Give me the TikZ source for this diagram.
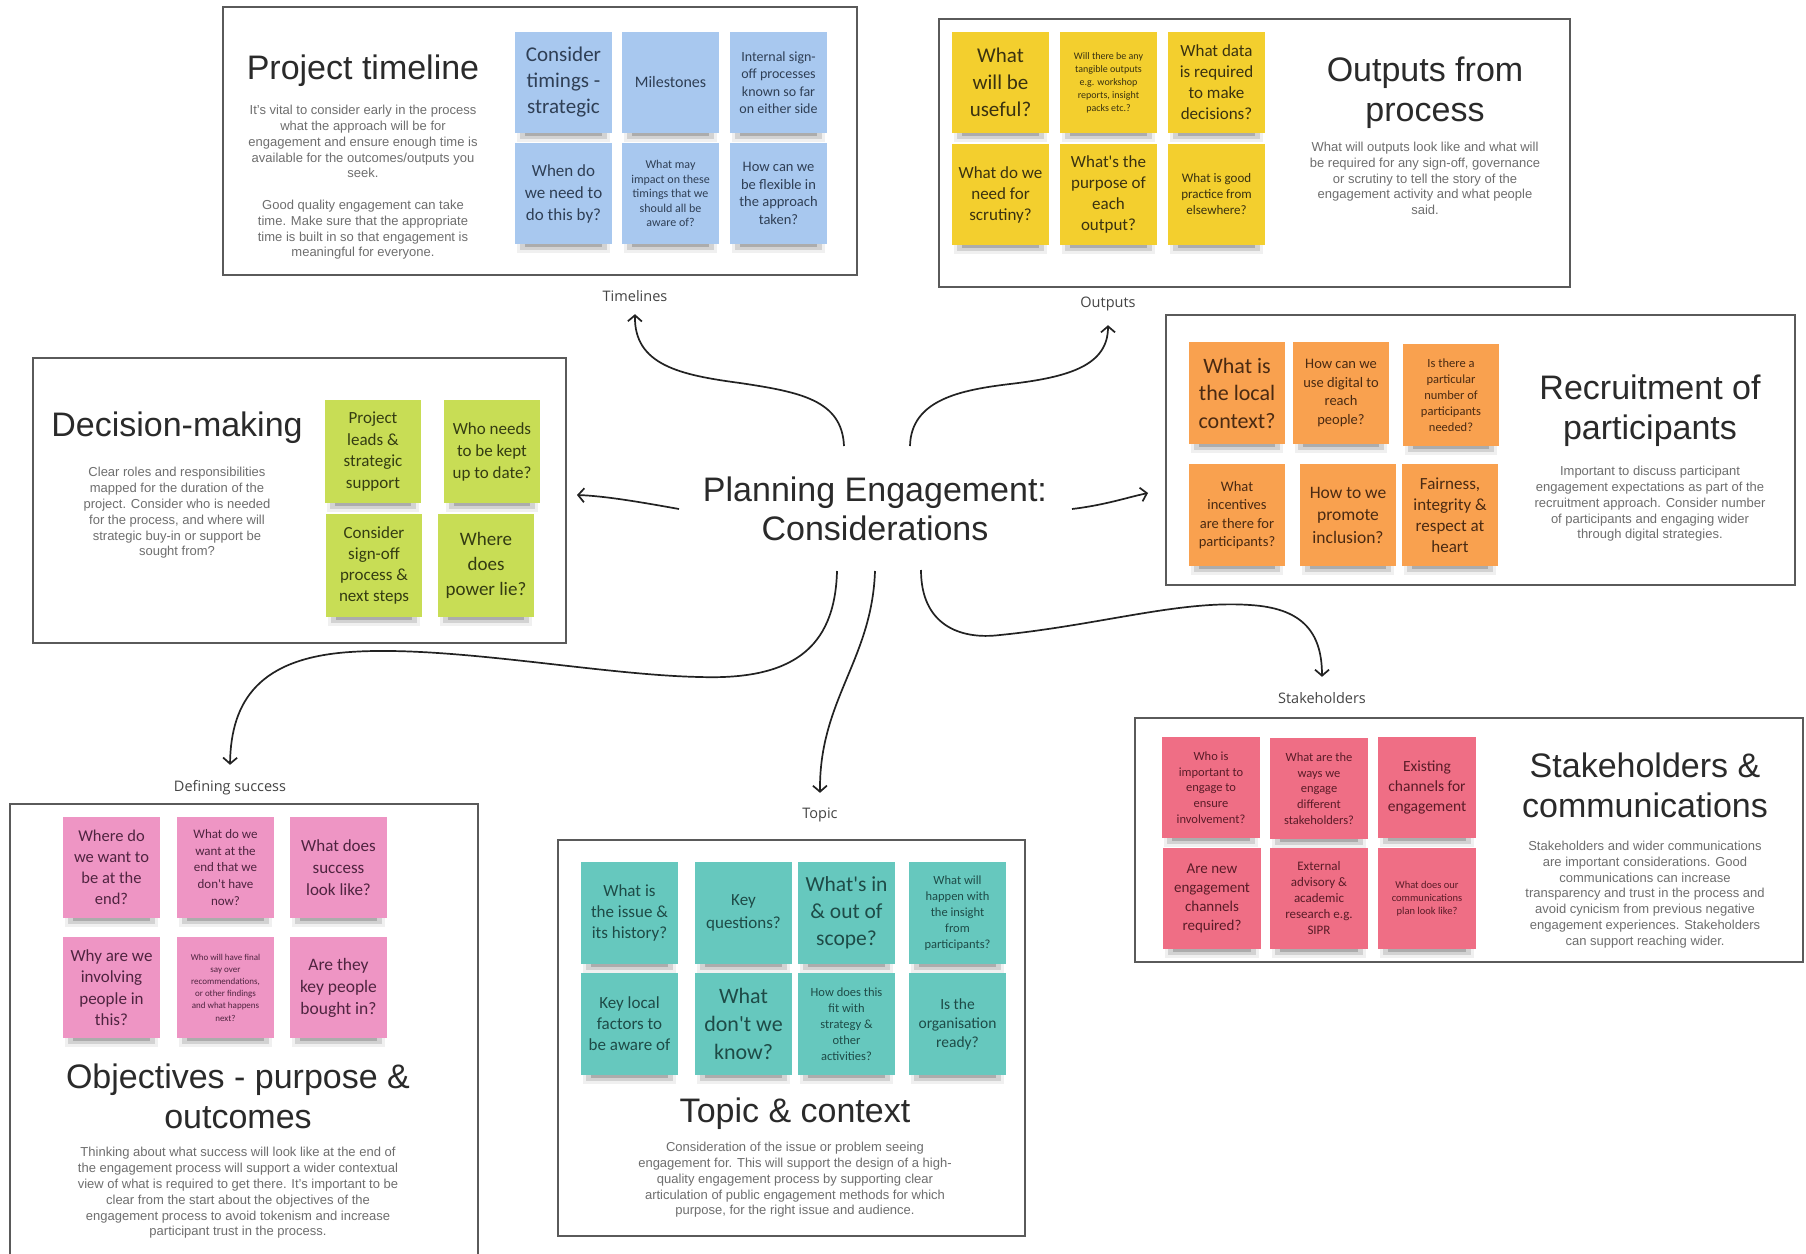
\documentclass[tikz,border=0pt]{standalone}
\usepackage{fontspec}
\setmainfont{Liberation Sans}
\newfontfamily\stfont{Carlito}
\newfontfamily\lblfont{Open Sans}
\usetikzlibrary{arrows.meta}
\definecolor{cBox}{HTML}{5A5A5A}
\definecolor{cTitle}{HTML}{2A2A2A}
\definecolor{cDesc}{HTML}{6E6E6E}
\definecolor{cLbl}{HTML}{444444}
\definecolor{cLine}{HTML}{222222}
\definecolor{cBlue}{HTML}{A8C8EF}\definecolor{cBlueT}{HTML}{2F3F55}
\definecolor{cYel}{HTML}{F3CF2E}\definecolor{cYelT}{HTML}{3A3210}
\definecolor{cLime}{HTML}{C8DD55}\definecolor{cLimeT}{HTML}{343C12}
\definecolor{cOra}{HTML}{F9A14F}\definecolor{cOraT}{HTML}{4A2A12}
\definecolor{cRed}{HTML}{EF6E85}\definecolor{cRedT}{HTML}{5A1C28}
\definecolor{cPink}{HTML}{EE95C4}\definecolor{cPinkT}{HTML}{4F2440}
\definecolor{cTeal}{HTML}{66C8BE}\definecolor{cTealT}{HTML}{1E4B47}
\newcommand\Fsz[2]{\fontsize{#1}{#2}\selectfont}
\def\stW{97}\def\stH{101}
\newcommand\stk[7]{%
  \fill[black,opacity=.06] ({#2+2},{#3+\stH-4}) rectangle ({#2+\stW-2},{#3+\stH+9});
  \fill[black,opacity=.12] ({#2+5},{#3+\stH-2}) rectangle ({#2+\stW-5},{#3+\stH+6});
  \fill[black,opacity=.18] ({#2+10},{#3+\stH-1}) rectangle ({#2+\stW-10},{#3+\stH+3});
  \node[stickbox,#4,minimum width=\stW pt,minimum height=\stH pt,font=\stfont\Fsz{#5}{#6}] (#1) at ({#2+\stW/2},{#3+\stH/2}) {#7};}
\begin{document}
\begin{tikzpicture}[x=1pt,y=-1pt,
  panel/.style={draw=cBox,line width=2pt,fill=white,inner sep=0pt},
  ttl/.style={font=\Fsz{34}{40},text=cTitle,align=center,inner sep=0pt},
  dsc/.style={font=\Fsz{13}{15.8},text=cDesc,align=center,inner sep=0pt},
  lbl/.style={font=\lblfont\Fsz{14.5}{17},text=cLbl,inner sep=0pt,text height=10pt,text depth=3pt},
  stickbox/.style={inner sep=2pt,align=center},
  gBlue/.style={fill=cBlue,text=cBlueT},
  gYel/.style={fill=cYel,text=cYelT},
  gLime/.style={fill=cLime,text=cLimeT},
  gOra/.style={fill=cOra,text=cOraT},
  gRed/.style={fill=cRed,text=cRedT},
  gPink/.style={fill=cPink,text=cPinkT},
  gTeal/.style={fill=cTeal,text=cTealT},
  conn/.style={draw=cLine,line width=1.7pt,-{Straight Barb[length=6pt,width=14pt]}}]
\useasboundingbox (0,0) rectangle (1806,1253);
\fill[white] (0,0) rectangle (1806,1253);

% ---------- panels ----------
\node[panel,minimum width=634pt,minimum height=268pt] (ptbox) at (540,141) {};
\node[panel,minimum width=631pt,minimum height=268pt] (oubox) at (1254.5,153) {};
\node[panel,minimum width=533pt,minimum height=285pt] (dmbox) at (299.5,500.5) {};
\node[panel,minimum width=629pt,minimum height=270pt] (rcbox) at (1480.5,450) {};
\node[panel,minimum width=668pt,minimum height=244pt] (shbox) at (1469,840) {};
\node[panel,minimum width=468pt,minimum height=454pt] (obbox) at (244,1031) {};
\node[panel,minimum width=467pt,minimum height=396pt] (tcbox) at (791.5,1038) {};

% ---------- titles and descriptions ----------
\node[ttl] (ptt) at (363,71) {Project timeline};
\node[dsc] (ptd) at (363,182.5) {It's vital to consider early in the process\\what the approach will be for\\engagement and ensure enough time is\\available for the outcomes/outputs you\\seek.\\[15.8pt]Good quality engagement can take\\time. Make sure that the appropriate\\time is built in so that engagement is\\meaningful for everyone.};
\node[ttl] (out) at (1425,93) {Outputs from\\process};
\node[dsc] (oud) at (1425,178.5) {What will outputs look like and what will\\be required for any sign-off, governance\\or scrutiny to tell the story of the\\engagement activity and what people\\said.};
\node[ttl] (dmt) at (177,428) {Decision-making};
\node[dsc] (dmd) at (177,513) {Clear roles and responsibilities\\mapped for the duration of the\\project. Consider who is needed\\for the process, and where will\\strategic buy-in or support be\\sought from?};
\node[ttl] (rct) at (1650,411) {Recruitment of\\participants};
\node[dsc] (rcd) at (1650,504) {Important to discuss participant\\engagement expectations as part of the\\recruitment approach. Consider number\\of participants and engaging wider\\through digital strategies.};
\node[ttl] (sht) at (1645,785) {Stakeholders \&\\communications};
\node[dsc] (shd) at (1645,894.5) {Stakeholders and wider communications\\are important considerations. Good\\communications can increase\\transparency and trust in the process and\\avoid cynicism from previous negative\\engagement experiences. Stakeholders\\can support reaching wider.};
\node[ttl] (obt) at (238,1096) {Objectives - purpose \&\\outcomes};
\node[dsc] (obd) at (238,1193) {Thinking about what success will look like at the end of\\the engagement process will support a wider contextual\\view of what is required to get there. It's important to be\\clear from the start about the objectives of the\\engagement process to avoid tokenism and increase\\participant trust in the process.};
\node[ttl] (tct) at (795,1114) {Topic \& context};
\node[dsc] (tcd) at (795,1180) {Consideration of the issue or problem seeing\\engagement for. This will support the design of a high-\\quality engagement process by supporting clear\\articulation of public engagement methods for which\\purpose, for the right issue and audience.};

% ---------- stickies: project timeline ----------
\def\stW{97}\def\stH{101}
\stk{p1}{515}{32}{gBlue}{21}{26}{Consider\\timings -\\strategic}
\stk{p2}{622}{32}{gBlue}{16}{20}{Milestones}
\stk{p3}{730}{32}{gBlue}{14}{17.5}{Internal sign-\\off processes\\known so far\\on either side}
\stk{p4}{515}{143}{gBlue}{17}{22}{When do\\we need to\\do this by?}
\stk{p5}{622}{143}{gBlue}{12}{14.6}{What may\\impact on these\\timings that we\\should all be\\aware of?}
\stk{p6}{730}{143}{gBlue}{14.5}{17.6}{How can we\\be flexible in\\the approach\\taken?}

% ---------- stickies: outputs ----------
\stk{o1}{952}{32}{gYel}{21}{27}{What\\will be\\useful?}
\stk{o2}{1060}{32}{gYel}{10}{13}{Will there be any\\tangible outputs\\e.g. workshop\\reports, insight\\packs etc.?}
\stk{o3}{1168}{32}{gYel}{17}{21}{What data\\is required\\to make\\decisions?}
\stk{o4}{952}{144}{gYel}{17}{21}{What do we\\need for\\scrutiny?}
\stk{o5}{1060}{144}{gYel}{17}{21}{What's the\\purpose of\\each\\output?}
\stk{o6}{1168}{144}{gYel}{13}{16}{What is good\\practice from\\elsewhere?}

% ---------- stickies: decision-making ----------
\def\stW{96}\def\stH{103}
\stk{d1}{325}{400}{gLime}{17}{21.5}{Project\\leads \&\\strategic\\support}
\stk{d2}{444}{400}{gLime}{17}{22}{Who needs\\to be kept\\up to date?}
\stk{d3}{326}{514}{gLime}{17}{21}{Consider\\sign-off\\process \&\\next steps}
\stk{d4}{438}{514}{gLime}{19}{25}{Where\\does\\power lie?}

% ---------- stickies: recruitment ----------
\def\stW{96}\def\stH{102}
\stk{r1}{1189}{342}{gOra}{22}{27.5}{What is\\the local\\context?}
\stk{r2}{1293}{342}{gOra}{14.5}{18.4}{How can we\\use digital to\\reach\\people?}
\stk{r3}{1403}{344}{gOra}{12.5}{16}{Is there a\\particular\\number of\\participants\\needed?}
\stk{r4}{1189}{464}{gOra}{14.5}{18.4}{What\\incentives\\are there for\\participants?}
\stk{r5}{1300}{464}{gOra}{17.5}{22.5}{How to we\\promote\\inclusion?}
\stk{r6}{1402}{464}{gOra}{17}{21}{Fairness,\\integrity \&\\respect at\\heart}

% ---------- stickies: stakeholders ----------
\def\stW{98}\def\stH{101}
\stk{s1}{1162}{737}{gRed}{12.5}{15.8}{Who is\\important to\\engage to\\ensure\\involvement?}
\stk{s2}{1270}{738}{gRed}{12.5}{15.8}{What are the\\ways we\\engage\\different\\stakeholders?}
\stk{s3}{1378}{737}{gRed}{15.5}{19.6}{Existing\\channels for\\engagement}
\stk{s4}{1163}{848}{gRed}{15}{18.8}{Are new\\engagement\\channels\\required?}
\stk{s5}{1270}{848}{gRed}{13}{16}{External\\advisory \&\\academic\\research e.g.\\SIPR}
\stk{s6}{1378}{848}{gRed}{10.5}{13}{What does our\\communications\\plan look like?}

% ---------- stickies: objectives ----------
\def\stW{97}\def\stH{101}
\stk{b1}{63}{817}{gPink}{16.5}{21}{Where do\\we want to\\be at the\\end?}
\stk{b2}{177}{817}{gPink}{13}{16.7}{What do we\\want at the\\end that we\\don't have\\now?}
\stk{b3}{290}{817}{gPink}{17}{22}{What does\\success\\look like?}
\stk{b4}{63}{937}{gPink}{17}{21.5}{Why are we\\involving\\people in\\this?}
\stk{b5}{177}{937}{gPink}{9}{12.2}{Who will have final\\say over\\recommendations,\\or other findings\\and what happens\\next?}
\stk{b6}{290}{937}{gPink}{17.5}{22}{Are they\\key people\\bought in?}

% ---------- stickies: topic ----------
\def\stW{97}\def\stH{102}
\stk{t1}{581}{862}{gTeal}{17}{21.3}{What is\\the issue \&\\its history?}
\stk{t2}{695}{862}{gTeal}{17}{23}{Key\\questions?}
\stk{t3}{798}{862}{gTeal}{21.5}{27}{What's in\\\& out of\\scope?}
\stk{t4}{909}{862}{gTeal}{12.5}{16}{What will\\happen with\\the insight\\from\\participants?}
\stk{t5}{581}{973}{gTeal}{17}{21}{Key local\\factors to\\be aware of}
\stk{t6}{695}{973}{gTeal}{22}{27.6}{What\\don't we\\know?}
\stk{t7}{798}{973}{gTeal}{12.5}{16}{How does this\\fit with\\strategy \&\\other\\activities?}
\stk{t8}{909}{973}{gTeal}{15.5}{19}{Is the\\organisation\\ready?}

% ---------- centre and labels ----------
\node[font=\Fsz{34}{39},text=cTitle,align=center,inner sep=0pt] (ctr) at (875,509) {Planning Engagement:\\Considerations};
\node[lbl] (lTL) at (635,298) {Timelines};
\node[lbl] (lOU) at (1108,304) {Outputs};
\node[lbl] (lSH) at (1322,700) {Stakeholders};
\node[lbl] (lDS) at (230,788) {Defining success};
\node[lbl] (lTP) at (820,815) {Topic};

\coordinate (sTL) at (844,446);
\coordinate (sOU) at (910,446);
\coordinate (sDM) at (679,509);
\coordinate (sRC) at (1072,509);
\coordinate (sDS) at (837,571);
\coordinate (sTP) at (875,571);
\coordinate (sSH) at (921,570);

% ---------- connectors ----------
\draw[conn] (sTL) .. controls (842,400) and (800,392) .. (740,383) .. controls (680,375) and (634,365) .. ([yshift=-9.5pt]lTL.south);
\draw[conn] (sOU) .. controls (911,400) and (960,390) .. (1010,384) .. controls (1070,377) and (1108,365) .. ([yshift=-14.5pt]lOU.south);
\draw[conn] (sDM) .. controls (640,502) and (605,496) .. ([xshift=10pt,yshift=5.5pt]dmbox.east);
\draw[conn] (sRC) .. controls (1105,505) and (1125,498) .. ([xshift=-17pt,yshift=-43pt]rcbox.west);
\draw[conn] (sDS) .. controls (835,650) and (790,680) .. (700,677) .. controls (600,675) and (450,645) .. (350,652) .. controls (260,658) and (231,700) .. ([yshift=16.5pt]lDS.north);
\draw[conn] (sTP) .. controls (872,660) and (819,700) .. ([yshift=15.5pt]lTP.north);
\draw[conn] (sSH) .. controls (921,625) and (960,640) .. (1000,635) .. controls (1100,625) and (1180,600) .. (1250,605) .. controls (1300,608) and (1322,630) .. ([yshift=16.5pt]lSH.north);
\end{tikzpicture}
\end{document}
